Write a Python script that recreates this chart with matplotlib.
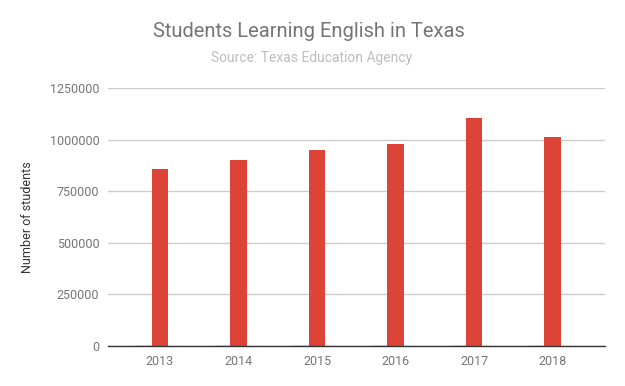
import matplotlib.pyplot as plt
import numpy as np

years = ["2013", "2014", "2015", "2016", "2017", "2018"]
# blue series is empty in the source chart (drawn flat at zero)
other_counts = [0, 0, 0, 0, 0, 0]
ell_students = [860000, 900000, 948000, 978000, 1108000, 1011000]
y_ticks = [0, 250000, 500000, 750000, 1000000, 1250000]

plt.rcParams['font.family'] = ['Roboto', 'DejaVu Sans']

fig = plt.figure(figsize=(6.25, 3.86), dpi=100)
ax = fig.add_axes([0.1723, 0.1049, 0.7957, 0.6663])

x = np.arange(len(years))
w = 0.21

# gridlines first so bars sit above
ax.set_yticks(y_ticks)
ax.set_yticklabels([str(t) for t in y_ticks])
ax.yaxis.grid(True, color="#cccccc", linewidth=1)
ax.set_axisbelow(True)

ax.bar(x - w, other_counts, width=w, color="#4285F4", edgecolor="#4285F4", linewidth=1, zorder=2)
ax.bar(x, ell_students, width=w, color="#DB4437", zorder=3)

ax.set_xlim(-0.666, 5.666)
ax.set_ylim(0, 1250000)
ax.set_xticks(x)
ax.set_xticklabels(years)

for s in ["top", "right", "left"]:
    ax.spines[s].set_visible(False)
ax.spines["bottom"].set_color("#333333")
ax.spines["bottom"].set_linewidth(1)
ax.spines["bottom"].set_zorder(4)

ax.tick_params(axis="y", length=0, pad=6, labelsize=9, labelcolor="#757575")
ax.tick_params(axis="x", length=0, pad=7, labelsize=9, labelcolor="#757575")

ax.set_ylabel("Number of students", fontsize=9, color="#333333")
ax.yaxis.set_label_coords(-0.148, 0.5)

fig.text(0.494, 1 - 31.7 / 386, "Students Learning English in Texas",
         ha="center", va="center", fontsize=14.5, color="#757575")
fig.text(0.499, 1 - 57.7 / 386, "Source: Texas Education Agency",
         ha="center", va="center", fontsize=10, color="#bdbdbd")

fig.savefig("out.png", dpi=100)
